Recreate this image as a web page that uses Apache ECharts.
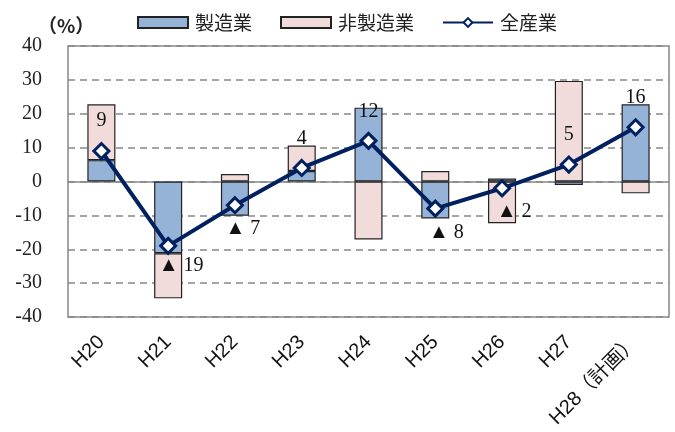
<!DOCTYPE html>
<html>
<head>
<meta charset="utf-8">
<script src="https://cdn.jsdelivr.net/npm/echarts@6/dist/echarts.min.js"></script>
<style>
  html, body { margin: 0; padding: 0; background: #fff; }
  #chart { width: 675px; height: 432px; }
</style>
</head>
<body>
<div id="chart"></div>
<script>
// Fiscal years (heisei), the last one is the plan figure
const categories = ['H20', 'H21', 'H22', 'H23', 'H24', 'H25', 'H26', 'H27', 'H28（計画）'];
// Contributions by sector (%)
const manufacturing = [6.3, -21.2, -10.1, 3.1, 21.8, -10.9, 0.9, -1.0, 22.8];
const nonManufacturing = [16.5, -13.3, 2.2, 7.5, -17.1, 3.1, -12.3, 29.7, -3.5];
// All industries (%)
const allIndustries = [9, -19, -7, 4, 12, -8, -2, 5, 16];
// Value label offsets [dx, dy] relative to each point
const labelOffsets = [[0, -30], [13, 20], [8, 24], [0, -29], [0, -29], [11, 24], [12, 23], [0, -30], [0, -30]];

const yTicks = { min: -40, max: 40, interval: 10 };
const serif = '"Liberation Serif", "DejaVu Serif", serif';
const jp = '"Noto Sans CJK JP", sans-serif';

const fmt = v => (v < 0 ? '▲ ' + Math.abs(v) : String(v));

const chart = echarts.init(document.getElementById('chart'));
chart.setOption({
  animation: false,
  backgroundColor: '#fff',
  graphic: [{
    type: 'text', left: 38, top: 16,
    style: { text: '（%）', font: 'bold 19px ' + jp, fill: '#222' }
  }],
  legend: {
    left: 132, top: 8,
    itemWidth: 50, itemHeight: 11, itemGap: 28,
    textStyle: { fontFamily: jp, fontSize: 19, color: '#222', padding: [0, 0, 0, 2] },
    data: [
      { name: '製造業', icon: 'rect' },
      { name: '非製造業', icon: 'rect' },
      { name: '全産業' }
    ]
  },
  grid: {
    left: 68, right: 6, top: 46, bottom: 115,
    show: true, borderColor: '#888', borderWidth: 1.5
  },
  xAxis: {
    type: 'category',
    data: categories,
    axisLine: { onZero: true, lineStyle: { color: '#888', width: 1.5 } },
    axisTick: { show: false },
    axisLabel: {
      rotate: 45, interval: 0, margin: 22,
      fontFamily: '"Liberation Sans", "Noto Sans CJK JP", sans-serif',
      fontSize: 20, color: '#111'
    }
  },
  yAxis: {
    type: 'value',
    min: yTicks.min, max: yTicks.max, interval: yTicks.interval,
    axisLine: { show: false },
    axisTick: { show: false },
    axisLabel: { margin: 26, fontFamily: serif, fontSize: 20, color: '#222' },
    splitLine: { lineStyle: { color: '#888', type: [7, 5], width: 1.5 } }
  },
  series: [
    {
      name: '製造業', type: 'bar', stack: 'sector', barWidth: '42%',
      data: manufacturing,
      itemStyle: { color: '#95B3D7', borderColor: '#222', borderWidth: 1.2 }
    },
    {
      name: '非製造業', type: 'bar', stack: 'sector', barWidth: '42%',
      data: nonManufacturing,
      itemStyle: { color: '#F2DCDB', borderColor: '#222', borderWidth: 1.2 }
    },
    {
      name: '全産業', type: 'line',
      data: allIndustries.map((v, i) => ({
        value: v,
        label: { offset: labelOffsets[i] }
      })),
      symbol: 'diamond', symbolSize: 15,
      lineStyle: { color: '#002060', width: 4 },
      itemStyle: { color: '#fff', borderColor: '#002060', borderWidth: 3 },
      label: {
        show: true, position: 'inside',
        formatter: p => fmt(p.value),
        fontFamily: serif, fontSize: 20, color: '#111'
      },
      z: 5
    }
  ]
});
</script>
</body>
</html>
